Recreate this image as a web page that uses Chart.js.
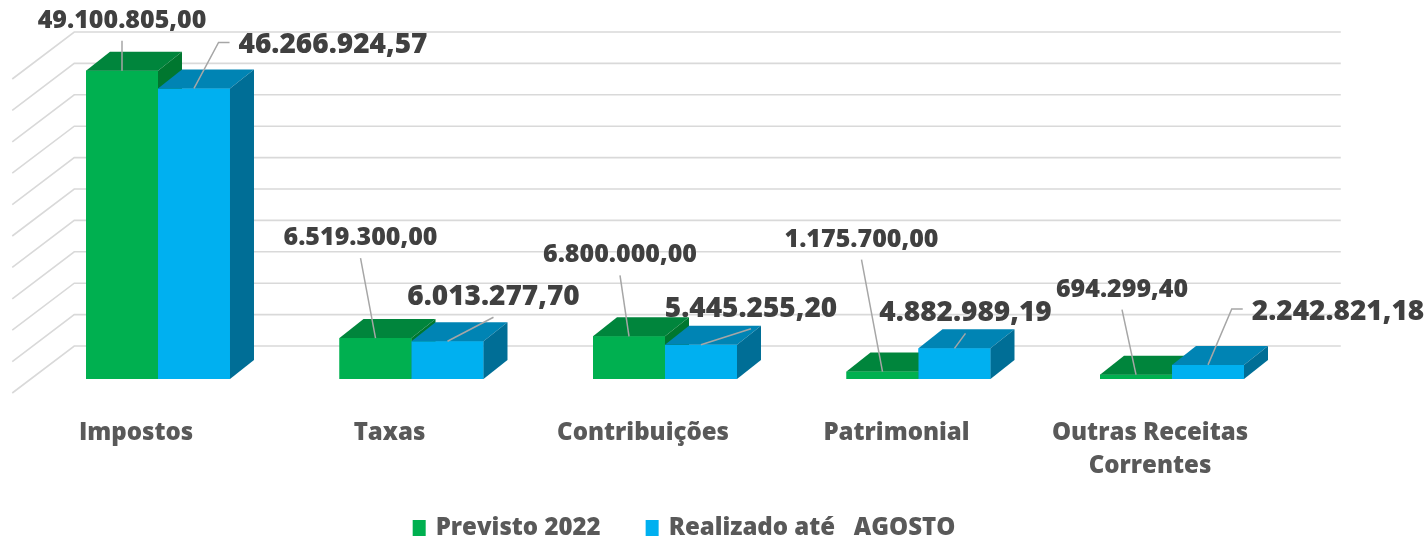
<!DOCTYPE html>
<html>
<head>
<meta charset="utf-8">
<script src="https://cdn.jsdelivr.net/npm/chart.js"></script>
<style>
    html, body { margin: 0; padding: 0; background: #fff; }
    #wrap { width: 1427px; height: 543px; }
</style>
</head>
<body>
<div id="wrap"><canvas id="receitasChart" width="1427" height="543"></canvas></div>

<script>
// dados
var categorias = ['Impostos', 'Taxas', 'Contribuições', 'Patrimonial', ['Outras Receitas', 'Correntes']];
var previsto2022 = [49100805.00, 6519300.00, 6800000.00, 1175700.00, 694299.40];
var realizadoAgosto = [46266924.57, 6013277.70, 5445255.20, 4882989.19, 2242821.18];
var nomesSeries = ['Previsto 2022', 'Realizado até   AGOSTO'];

// estilo
var coresFaces = [
    ['#00B050', '#00853C', '#00772F'],   // frente, topo, lado
    ['#00B0F0', '#0084B4', '#006E96']
];
var tamRotulo = [25, 28];       // fonte dos rotulos por serie
var DX = 24, DY = -19;          // profundidade das barras
var PAREDE_DY = -33;            // parede do fundo
// deslocamento do rotulo em relacao ao topo da barra [dx, dy, linha pela esquerda]
var posRotulos = [
    [[0, -50, 0], [139, -43, 1]],
    [[-15, -100, 0], [46, -44, 0]],
    [[-9, -81, 0], [50, -36, 0]],
    [[-21, -132, 0], [11, -35, 0]],
    [[-14, -85, 0], [130, -53, 1]]
];

function formatar(v) {
    var partes = v.toFixed(2).split('.');
    return partes[0].replace(/\B(?=(\d{3})+(?!\d))/g, '.') + ',' + partes[1];
}

function poligono(ctx, pts, cor) {
    ctx.beginPath();
    ctx.moveTo(pts[0][0], pts[0][1]);
    for (var k = 1; k < pts.length; k++) ctx.lineTo(pts[k][0], pts[k][1]);
    ctx.closePath();
    ctx.fillStyle = cor;
    ctx.fill();
}

// linhas de grade na parede do fundo
var grade3d = {
    id: 'grade3d',
    beforeDatasetsDraw: function(chart) {
        var ctx = chart.ctx, y = chart.scales.y, area = chart.chartArea;
        var valores = y.ticks.map(function(t) { return t.value; });
        var xi = area.left + 43, xf = area.right + 42;
        ctx.save();
        ctx.strokeStyle = '#D9D9D9';
        ctx.lineWidth = 1.6;
        valores.forEach(function(v) {
            var yb = y.getPixelForValue(v) + PAREDE_DY;
            ctx.beginPath();
            ctx.moveTo(xi - 62, yb + 47);
            ctx.lineTo(xi, yb);
            ctx.lineTo(xf, yb);
            ctx.stroke();
        });
        ctx.restore();
    }
};

// barras com topo e lado
var barras3d = {
    id: 'barras3d',
    afterDatasetsDraw: function(chart) {
        var ctx = chart.ctx;
        ctx.save();
        for (var i = 0; i < chart.data.labels.length; i++) {
            chart.data.datasets.forEach(function(ds, d) {
                var p = chart.getDatasetMeta(d).data[i].getProps(['x', 'y', 'base', 'width'], true);
                var l = p.x - p.width / 2, r = p.x + p.width / 2;
                var c = coresFaces[d];
                ctx.fillStyle = c[0];
                ctx.fillRect(l, p.y, p.width, p.base - p.y);
                poligono(ctx, [[l, p.y], [r, p.y], [r + DX, p.y + DY], [l + DX, p.y + DY]], c[1]);
                poligono(ctx, [[r, p.y], [r + DX, p.y + DY], [r + DX, p.base + DY], [r, p.base]], c[2]);
            });
        }
        ctx.restore();
    }
};

// rotulos de dados com linhas de chamada
var rotulos = {
    id: 'rotulos',
    afterDraw: function(chart) {
        var ctx = chart.ctx;
        ctx.save();
        ctx.textAlign = 'center';
        ctx.textBaseline = 'middle';
        chart.data.datasets.forEach(function(ds, d) {
            ctx.font = '800 ' + tamRotulo[d] + 'px "Open Sans"';
            chart.getDatasetMeta(d).data.forEach(function(bar, i) {
                var p = bar.getProps(['x', 'y'], true);
                var o = posRotulos[i][d];
                var cx = p.x + o[0], cy = p.y + o[1];
                var texto = formatar(ds.data[i]);
                var w = ctx.measureText(texto).width;
                ctx.strokeStyle = '#A6A6A6';
                ctx.lineWidth = 1.5;
                ctx.beginPath();
                if (o[2]) {
                    var esq = cx - w / 2;
                    ctx.moveTo(esq - 9, cy - 3);
                    ctx.lineTo(esq - 20, cy - 3);
                } else {
                    ctx.moveTo(cx, cy + 20);
                }
                ctx.lineTo(p.x, p.y);
                ctx.stroke();
                ctx.fillStyle = '#404040';
                ctx.fillText(texto, cx, cy);
            });
        });
        ctx.restore();
    }
};

// legenda
var legenda = {
    id: 'legenda',
    afterDraw: function(chart) {
        var ctx = chart.ctx;
        ctx.save();
        ctx.font = '800 24px "Open Sans"';
        ctx.textBaseline = 'middle';
        ctx.textAlign = 'left';
        var itens = chart.data.datasets.map(function(ds, d) {
            return { texto: ds.label, cor: coresFaces[d][0], w: ctx.measureText(ds.label).width };
        });
        var total = 0;
        itens.forEach(function(it, k) { total += 13 + 10 + it.w + (k ? 45 : 0); });
        var x = 684 - total / 2, yc = 528;
        itens.forEach(function(it, k) {
            if (k) x += 45;
            ctx.fillStyle = it.cor;
            ctx.fillRect(x, yc - 8, 13, 16);
            x += 23;
            ctx.fillStyle = '#595959';
            ctx.fillText(it.texto, x, yc);
            x += it.w;
        });
        ctx.restore();
    }
};

var ctx = document.getElementById('receitasChart').getContext('2d');
var receitasChart = new Chart(ctx, {
    type: 'bar',
    data: {
        labels: categorias,
        datasets: [
            { label: nomesSeries[0], data: previsto2022, backgroundColor: coresFaces[0][0] },
            { label: nomesSeries[1], data: realizadoAgosto, backgroundColor: coresFaces[1][0] }
        ]
    },
    options: {
        responsive: false,
        animation: false,
        devicePixelRatio: 1,
        categoryPercentage: 0.568,
        barPercentage: 1.0,
        layout: { padding: { left: 31.25, right: 128.25, top: 65, bottom: 54 } },
        plugins: {
            legend: { display: false },
            tooltip: { enabled: false }
        },
        scales: {
            x: {
                grid: { display: false, drawTicks: false },
                border: { display: false },
                ticks: {
                    autoSkip: false,
                    maxRotation: 0,
                    minRotation: 0,
                    padding: 37,
                    labelOffset: -22,
                    color: '#595959',
                    font: { family: 'Open Sans', size: 24, weight: '800', lineHeight: 1.4 }
                },
                afterFit: function(s) { s.height = 110; }
            },
            y: {
                display: false,
                min: 0,
                max: 50000000,
                ticks: { stepSize: 5000000 }
            }
        }
    },
    plugins: [grade3d, barras3d, rotulos, legenda]
});
</script>
</body>
</html>
